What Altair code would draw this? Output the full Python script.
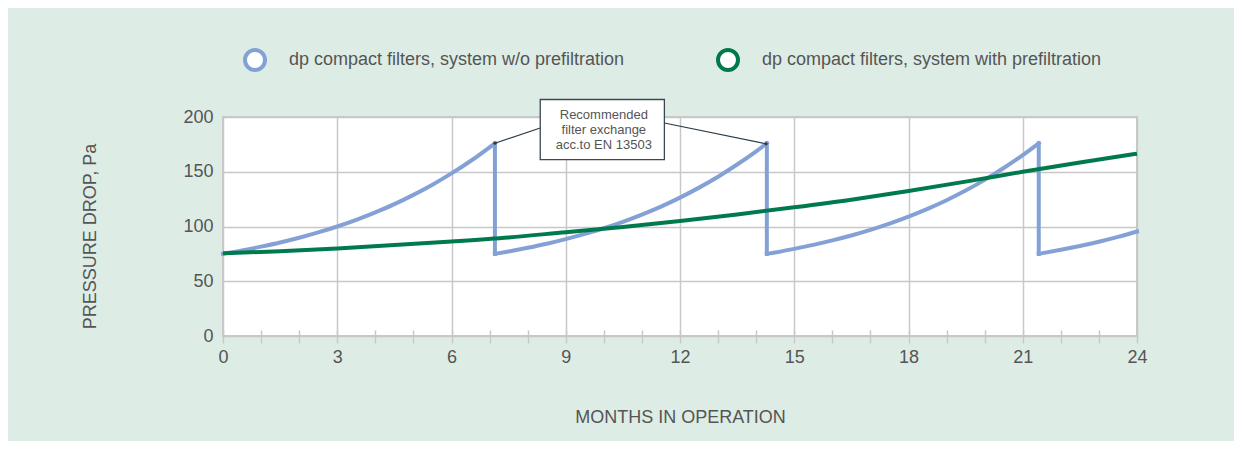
import altair as alt
import pandas as pd

# ---- data ----
series_names = [
    "dp compact filters, system w/o prefiltration",
    "dp compact filters, system with prefiltration",
]
series_colors = ["#84a1d6", "#007a4d"]

# blue series: one rising curve per filter life (cycle), then a vertical drop at each exchange
blue_cycle_1_months = [0, 0.5, 1, 1.5, 2, 2.5, 3, 3.5, 4, 4.5, 5, 5.5, 6, 6.5, 7.14]
blue_cycle_1_values = [75, 78.1, 81.6, 85.4, 89.7, 94.6, 100, 106.1, 112.9, 120.4, 128.9, 138.2, 148.5, 159.8, 176]
blue_cycle_2_months = [7.14, 7.5, 8, 8.5, 9, 9.5, 10, 10.5, 11, 11.5, 12, 12.5, 13, 13.5, 14, 14.28]
blue_cycle_2_values = [75, 77.2, 80.6, 84.3, 88.5, 93.2, 98.4, 104.3, 110.9, 118.2, 126.4, 135.5, 145.5, 156.6, 168.7, 176]
blue_cycle_3_months = [14.28, 14.5, 15, 15.5, 16, 16.5, 17, 17.5, 18, 18.5, 19, 19.5, 20, 20.5, 21, 21.42]
blue_cycle_3_values = [75, 76.3, 79.6, 83.2, 87.3, 91.8, 96.9, 102.6, 109.0, 116.1, 124.0, 132.8, 142.6, 153.4, 165.2, 176]
blue_cycle_4_months = [21.42, 22, 22.5, 23, 23.5, 24]
blue_cycle_4_values = [75, 78.7, 82.2, 86.1, 90.5, 95.4]

exchange_months = [7.14, 14.28, 21.42]
exchange_top = [176, 176, 176]
exchange_bottom = [75, 75, 75]

months_green = [0, 1.5, 3, 4.5, 6, 7.5, 9, 10.5, 12, 13.5, 15, 16.5, 18, 19.5, 21, 22.5, 24]
pressure_green = [75.5, 77.5, 80, 83, 86.3, 90, 94.8, 99.5, 105, 111, 117.5, 124.5, 132.5, 141, 150, 158.5, 166.5]

x_tick_values = list(range(0, 25))
y_tick_values = [0, 50, 100, 150, 200]

note_lines = ["Recommended", "filter exchange", "acc.to EN 13503"]
note_line_months = [10.0, 10.0, 10.0]
note_line_values = [202, 188, 174]
note_box_months = [8.33, 11.59]
note_box_values = [161, 216]
leader_from_months = [8.33, 11.59]
leader_from_values = [190, 194.5]
leader_to_months = [7.14, 14.26]
leader_to_values = [176, 175.5]

# ---- tables ----
blue_cycles = [
    (blue_cycle_1_months, blue_cycle_1_values),
    (blue_cycle_2_months, blue_cycle_2_values),
    (blue_cycle_3_months, blue_cycle_3_values),
    (blue_cycle_4_months, blue_cycle_4_values),
]
df_blue = pd.concat([
    pd.DataFrame({"month": m, "pressure": v, "series": series_names[0], "cycle": i})
    for i, (m, v) in enumerate(blue_cycles)
], ignore_index=True)
df_drop = pd.DataFrame({"month": exchange_months, "pressure": exchange_top, "v2": exchange_bottom})
df_green = pd.DataFrame({"month": months_green, "pressure": pressure_green, "series": series_names[1]})

df_box = pd.DataFrame({"month": [note_box_months[0]], "m2": [note_box_months[1]],
                       "pressure": [note_box_values[0]], "v2": [note_box_values[1]]})
df_text = pd.DataFrame({"month": note_line_months, "pressure": note_line_values, "label": note_lines})
df_lead = pd.DataFrame({"month": leader_from_months, "pressure": leader_from_values,
                        "m2": leader_to_months, "v2": leader_to_values})
df_dots = pd.DataFrame({"month": leader_to_months, "pressure": leader_to_values})

FONT = "Liberation Sans"
TXT = "#555555"
GRID = "#c8c8c8"

xscale = alt.Scale(domain=[0, 24], nice=False, zero=False)
yscale = alt.Scale(domain=[0, 200], nice=False)

x_axis = alt.Axis(
    values=x_tick_values,
    labelExpr="datum.value % 3 === 0 ? datum.label : ''",
    gridOpacity={"condition": {"test": "datum.value % 3 === 0", "value": 1}, "value": 0},
    domain=False, offset=-6, tickSize=13, tickColor=GRID, tickWidth=1.5,
    labelPadding=5, labelOverlap=False, labelFlush=False,
    title="MONTHS IN OPERATION", titlePadding=42,
)
y_axis = alt.Axis(
    values=y_tick_values, ticks=False, tickSize=0, domain=False, labelPadding=10,
    title="PRESSURE DROP, Pa", titlePadding=83, titleY=119,
)

X = alt.X("month:Q", scale=xscale, axis=x_axis)
Y = alt.Y("pressure:Q", scale=yscale, axis=y_axis)

color = alt.Color(
    "series:N",
    scale=alt.Scale(domain=series_names, range=series_colors),
    legend=alt.Legend(
        title=None, orient="none", legendX=20, legendY=-69,
        direction="horizontal", symbolType="circle", symbolSize=400,
        symbolStrokeWidth=4, symbolFillColor="white",
        labelFont=FONT, labelFontSize=18, labelColor=TXT, labelLimit=0,
        labelOffset=22, columnPadding=85, padding=0,
    ),
)

blue = alt.Chart(df_blue).mark_line(strokeWidth=4, interpolate="monotone", strokeCap="square").encode(
    x=X, y=Y, color=color, detail="cycle:N",
)
drops = alt.Chart(df_drop).mark_rule(strokeWidth=4, color=series_colors[0], strokeCap="square").encode(
    x=X, y=Y, y2="v2:Q",
)
green = alt.Chart(df_green).mark_line(strokeWidth=4, interpolate="monotone").encode(
    x=X, y=Y, color=color,
)

leaders = alt.Chart(df_lead).mark_rule(color="#2b3a44", strokeWidth=1.2).encode(
    x=X, y=Y, x2="m2:Q", y2="v2:Q",
)
dots = alt.Chart(df_dots).mark_circle(color="#2b3a44", size=10, opacity=1).encode(
    x=X, y=Y,
)
box = alt.Chart(df_box).mark_rect(fill="white", stroke="#3a4852", strokeWidth=1.3).encode(
    x=X, x2="m2:Q", y=Y, y2="v2:Q",
)
text = alt.Chart(df_text).mark_text(font=FONT, fontSize=13, color=TXT, baseline="middle").encode(
    x=X, y=Y, text="label:N",
)

chart = alt.layer(blue, drops, green, leaders, dots, box, text).properties(
    width=914, height=219,
    autosize=alt.AutoSizeParams(type="none"),
    padding={"left": 215, "top": 109, "right": 97, "bottom": 105},
    background="#ddede6",
).configure_view(
    fill="white", stroke=GRID, strokeWidth=2,
).configure_axis(
    gridColor=GRID, gridWidth=1.5,
    labelFont=FONT, labelFontSize=18, labelColor=TXT,
    titleFont=FONT, titleFontSize=18, titleFontWeight="normal", titleColor=TXT,
)

chart.save("out.html", embed_options={"renderer": "svg", "actions": False})
